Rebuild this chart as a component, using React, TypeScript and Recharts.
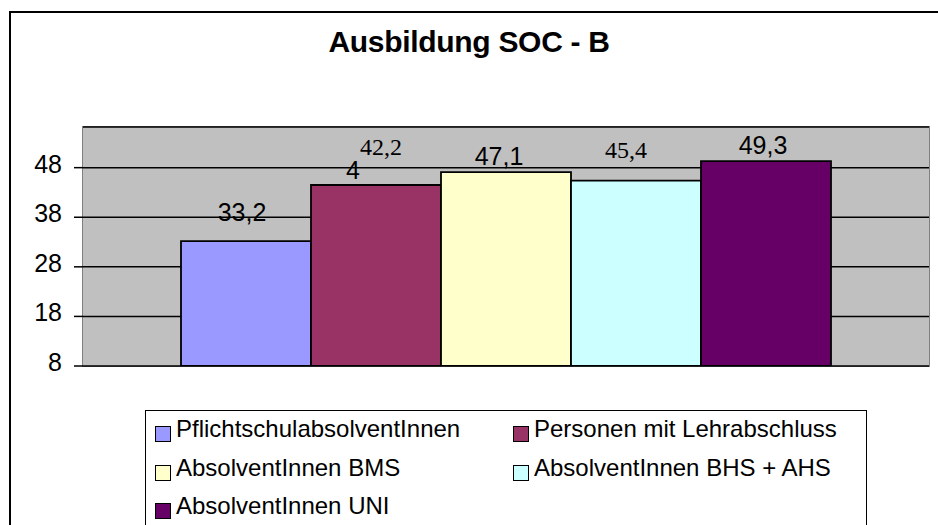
import { BarChart, Bar, XAxis, YAxis, CartesianGrid, LabelList } from "recharts";

// ── Data ──────────────────────────────────────────────────────────────

const categories = ["SOC - B"];
const seriesNames = [
  "PflichtschulabsolventInnen",
  "Personen mit Lehrabschluss",
  "AbsolventInnen BMS",
  "AbsolventInnen BHS + AHS",
  "AbsolventInnen UNI",
];
const seriesValues = [33.2, 44.5, 47.1, 45.4, 49.3];
const labelTexts = ["33,2", "4", "47,1", "45,4", "49,3"];
const strayLabel = "42,2";
const yTicks = [8, 18, 28, 38, 48];

// ── Styles ────────────────────────────────────────────────────────────

const seriesColors = ["#9999FF", "#993366", "#FFFFCC", "#CCFFFF", "#660066"];
const SANS = "'Liberation Sans', Arial, sans-serif";
const SERIF = "'Liberation Serif', 'Times New Roman', serif";

// label placement relative to bar centre / bar top
const labelPlacement = [
  { dx: -4, dy: -20, font: SANS },
  { dx: -23, dy: -6, font: SANS },
  { dx: -7, dy: -7, font: SANS },
  { dx: -10, dy: -23, font: SERIF },
  { dx: -3, dy: -7, font: SANS },
];
const strayPlacement = { dx: 5, dy: -30, font: SERIF };

const W = 938;
const H = 525;
const PLOT = { left: 83, top: 127, right: 929, bottom: 366 };

const rows = categories.map((name) => {
  const row: Record<string, string | number> = { name };
  seriesValues.forEach((v, i) => (row["s" + i] = v));
  return row;
});

function makeLabel(i: number) {
  return (props: any) => {
    const { x, y, width } = props;
    const p = labelPlacement[i];
    const cx = Number(x) + Number(width) / 2;
    return (
      <g>
        <text x={cx + p.dx} y={Number(y) + p.dy} textAnchor="middle" fontFamily={p.font}
          fontSize={p.font === SANS ? 25 : 24} fill="#000">
          {labelTexts[i]}
        </text>
        {i === 1 && (
          <text x={cx + strayPlacement.dx} y={Number(y) + strayPlacement.dy} textAnchor="middle"
            fontFamily={strayPlacement.font} fontSize={24} fill="#000">
            {strayLabel}
          </text>
        )}
      </g>
    );
  };
}

function YTick(props: any) {
  const { x, y, payload } = props;
  return (
    <text x={x} y={y - 4} textAnchor="end" dominantBaseline="central" fontFamily={SANS}
      fontSize={25} fill="#000">
      {payload.value}
    </text>
  );
}

export default function App() {
  return (
    <div style={{ position: "absolute", left: 0, top: 0, width: W, height: H, overflow: "hidden",
      background: "#fff", fontFamily: SANS }}>
      {/* outer chart frame (runs off the picture on the right and bottom) */}
      <div style={{ position: "absolute", left: 9, top: 11, width: 1000, height: 600,
        border: "2px solid #000" }} />

      <div style={{ position: "absolute", left: 0, top: 25, width: W, textAlign: "center",
        fontSize: 30, fontWeight: 700, lineHeight: "34px", color: "#000", letterSpacing: -0.3 }}>
        Ausbildung SOC - B
      </div>

      {/* plot area background */}
      <div style={{ position: "absolute", left: PLOT.left - 1, top: PLOT.top - 1,
        width: PLOT.right - PLOT.left, height: PLOT.bottom - PLOT.top,
        background: "#C0C0C0", border: "1.5px solid #808080" }} />

      <div style={{ position: "absolute", left: 0, top: 0 }}>
        <BarChart width={W} height={H} data={rows}
          margin={{ top: PLOT.top, right: W - PLOT.right, bottom: H - PLOT.bottom, left: 8 }}
          barCategoryGap={98} barGap={0}>
          <CartesianGrid vertical={false} stroke="#000" strokeWidth={1.5} />
          <XAxis dataKey="name" hide />
          <YAxis type="number" domain={[8, 56.2]} ticks={yTicks} width={75} allowDataOverflow
            axisLine={false} tickLine={{ stroke: "#000", strokeWidth: 1.5 }} tickSize={9}
            tickMargin={12} tick={<YTick />} />
          {seriesNames.map((n, i) => (
            <Bar key={n} dataKey={"s" + i} name={n} fill={seriesColors[i]} stroke="#000"
              strokeWidth={1.8} isAnimationActive={false}>
              <LabelList dataKey={"s" + i} content={makeLabel(i)} />
            </Bar>
          ))}
        </BarChart>
      </div>

      {/* legend */}
      <div style={{ position: "absolute", left: 145, top: 410, width: 720, height: 200,
        border: "1.5px solid #000", background: "#fff" }} />
      {seriesNames.map((n, i) => {
        const col = i % 2;
        const row = Math.floor(i / 2);
        return (
          <div key={n} style={{ position: "absolute", left: col === 0 ? 155 : 513,
            top: 411 + row * 38.5, height: 32, display: "flex", alignItems: "flex-end",
            fontSize: 24, lineHeight: "28px", color: "#000", whiteSpace: "nowrap" }}>
            <span style={{ display: "inline-block", width: 14, height: 14, background: seriesColors[i],
              border: "1.5px solid #000", marginRight: 5, marginBottom: 1 }} />
            <span>{n}</span>
          </div>
        );
      })}
    </div>
  );
}
